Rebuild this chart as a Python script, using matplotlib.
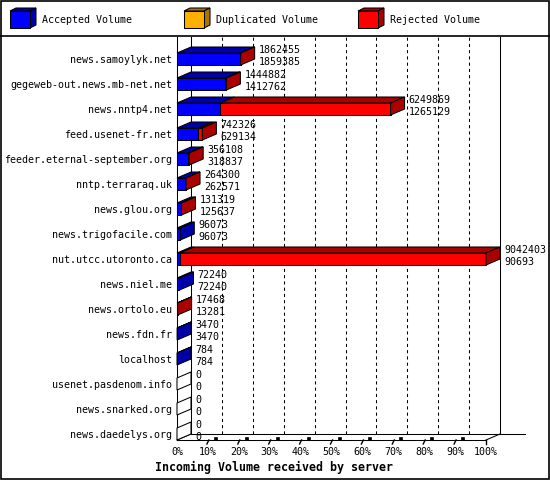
import numpy as np
import matplotlib
matplotlib.use("Agg")
import matplotlib.pyplot as plt
from matplotlib.patches import Polygon, Rectangle

# ── Data ──────────────────────────────────────────────────────────────────────
hosts = [
    "news.samoylyk.net", "gegeweb-out.news.mb-net.net", "news.nntp4.net",
    "feed.usenet-fr.net", "feeder.eternal-september.org", "nntp.terraraq.uk",
    "news.glou.org", "news.trigofacile.com", "nut.utcc.utoronto.ca",
    "news.niel.me", "news.ortolo.eu", "news.fdn.fr", "localhost",
    "usenet.pasdenom.info", "news.snarked.org", "news.daedelys.org",
]
total_volume = [1862455, 1444882, 6249869, 742326, 356108, 264300, 131319,
                96073, 9042403, 72240, 17468, 3470, 784, 0, 0, 0]
accepted_volume = [1859385, 1412762, 1265129, 629134, 318837, 262571, 125637,
                   96073, 90693, 72240, 13281, 3470, 784, 0, 0, 0]
duplicated_volume = [0] * len(hosts)
tick_labels = [f"{p}%" for p in range(0, 101, 10)]
legend_labels = ["Accepted Volume", "Duplicated Volume", "Rejected Volume"]

# ── Style ─────────────────────────────────────────────────────────────────────
W, H = 550, 480
FONT = "DejaVu Sans Mono"
FS = 7.2
COLORS = {"acc": ("#0000FF", "#0000AA"),
          "dup": ("#FFAF00", "#AA7400"),
          "rej": ("#FF0000", "#AA0000")}
LW = 0.75

# plot box in pixels (front face area)
X0, X1 = 177, 486
Y_TOP, Y_BOT = 37, 440
ROW_PX = 25
DEPTH_X, DEPTH_Y = 14, 6
BAR_PX = 12

fig = plt.figure(figsize=(W / 100, H / 100), dpi=100)
fig.patch.set_facecolor("white")

# background overlay in pixel units: border, legend, axis title
bg = fig.add_axes([0, 0, 1, 1])
bg.set_xlim(0, W)
bg.set_ylim(H, 0)
bg.axis("off")
bg.add_patch(Rectangle((0.5, 0.5), W - 1.5, H - 1.5, fill=False, lw=1.2, ec="black"))
bg.plot([0, W], [35.5, 35.5], color="black", lw=1.2)

for lx, key, text in zip([10, 184, 358], ["acc", "dup", "rej"], legend_labels):
    front, dark = COLORS[key]
    bg.add_patch(Polygon([(lx, 11), (lx + 6, 8), (lx + 26, 8), (lx + 20, 11)],
                         fc=dark, ec="black", lw=LW))
    bg.add_patch(Polygon([(lx + 20, 11), (lx + 26, 8), (lx + 26, 25), (lx + 20, 28)],
                         fc=dark, ec="black", lw=LW))
    bg.add_patch(Rectangle((lx, 11), 20, 17, fc=front, ec="black", lw=LW))
    bg.text(lx + 32, 20, text, family=FONT, fontsize=FS, va="center", ha="left")

bg.text(155, 467, "Incoming Volume received by server", family=FONT,
        fontsize=8.4, fontweight="bold", va="center", ha="left")

# ── Main axes ─────────────────────────────────────────────────────────────────
n = len(hosts)
xmax = max(total_volume)
first_row_px = 59
ylim_top = -(first_row_px - Y_TOP) / ROW_PX
ylim_bot = (n - 1) + (Y_BOT - (first_row_px + (n - 1) * ROW_PX)) / ROW_PX
ax = fig.add_axes([X0 / W, (H - Y_BOT) / H, (X1 - X0) / W, (Y_BOT - Y_TOP) / H])
ax.set_xlim(0, xmax)
ax.set_ylim(ylim_bot, ylim_top)
for s in ax.spines.values():
    s.set_visible(False)

PX = xmax / (X1 - X0)        # data units per pixel, x
PY = 1 / ROW_PX              # data units per pixel, y
DX, DY = DEPTH_X * PX, DEPTH_Y * PY
HALF = BAR_PX / 2 * PY
floor_back = ylim_bot - DY

# walls, floor and grid
ax.plot([0, 0], [ylim_bot, ylim_top], color="black", lw=LW, clip_on=False)
ax.plot([DX, DX], [floor_back, ylim_top], color="black", lw=LW, clip_on=False)
ax.plot([xmax + DX] * 2, [floor_back, ylim_top], color="black", lw=LW, clip_on=False)
ax.plot([0, xmax], [ylim_bot, ylim_bot], color="black", lw=LW, clip_on=False)
ax.plot([DX, xmax + DX + 25 * PX], [floor_back, floor_back], color="black", lw=LW, clip_on=False)
ax.plot([0, DX], [ylim_bot, floor_back], color="black", lw=LW, clip_on=False)
ax.plot([xmax, xmax + DX], [ylim_bot, floor_back], color="black", lw=LW, clip_on=False)

ticks = np.linspace(0, xmax, 11)
ax.vlines(ticks[1:-1] + DX, floor_back, ylim_top, colors="black", lw=LW,
          linestyles=(0, (3, 3)), clip_on=False)
for t in ticks[1:-1]:
    ax.plot([t - 1 * PX, t + 1 * PX], [ylim_bot + 4 * PY, ylim_bot], color="black",
            lw=1.0, clip_on=False)
    ax.add_patch(Rectangle((t + 6 * PX, ylim_bot - 3.5 * PY), 3 * PX, 3 * PY,
                           fc="black", ec="black", lw=0.5, clip_on=False))
ax.plot([xmax, xmax], [ylim_bot, ylim_bot + 4 * PY], color="black", lw=1.0, clip_on=False)

ax.set_xticks(ticks)
ax.set_xticklabels(tick_labels, family=FONT, fontsize=FS)
ax.tick_params(axis="x", length=0, pad=5)
ax.set_yticks(range(n))
ax.set_yticklabels(hosts, family=FONT, fontsize=FS)
ax.tick_params(axis="y", length=0, pad=3.6)

# ── 3D bars ───────────────────────────────────────────────────────────────────
rejected_volume = [t - a - d for t, a, d in zip(total_volume, accepted_volume, duplicated_volume)]
for i in range(n):
    segs = [("acc", accepted_volume[i]), ("dup", duplicated_volume[i]),
            ("rej", rejected_volume[i])]
    left = 0
    side_color = "white"
    yt, yb = i - HALF, i + HALF
    for key, val in segs:
        if val <= 0:
            continue
        front, dark = COLORS[key]
        ax.barh(i, val, left=left, height=2 * HALF, color=front, edgecolor="black",
                lw=LW, clip_on=False, zorder=3)
        ax.add_patch(Polygon([(left, yt), (left + val, yt), (left + val + DX, yt - DY),
                              (left + DX, yt - DY)], fc=dark, ec="black", lw=LW,
                             clip_on=False, zorder=3))
        left += val
        side_color = dark
    end = total_volume[i]
    ax.add_patch(Polygon([(end, yt), (end, yb), (end + DX, yb - DY), (end + DX, yt - DY)],
                         fc=side_color, ec="black", lw=LW, clip_on=False, zorder=3))
    tx = end + DX + 4 * PX
    ax.text(tx, i - 9 * PY, f"{total_volume[i]}", family=FONT, fontsize=FS,
            va="center", ha="left", zorder=4, clip_on=False)
    ax.text(tx, i + 3 * PY, f"{accepted_volume[i]}", family=FONT, fontsize=FS,
            va="center", ha="left", zorder=4, clip_on=False)

fig.savefig("out.png", dpi=100)
